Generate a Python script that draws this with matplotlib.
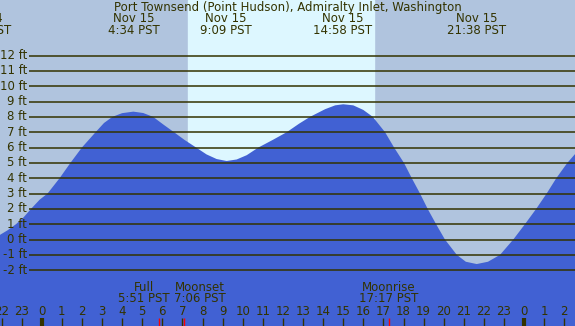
import matplotlib
matplotlib.use("Agg")
from matplotlib import pyplot as plt

# tide height readings (hours from midnight Nov 15, feet)
tide_hours = [-2.08, -1.7, -1.28, -0.9, -0.53, -0.1, 0.29, 0.89, 1.43, 2.0, 2.68, 3.1, 3.52,
              4.0, 4.56, 5.05, 5.54, 6.05, 6.58, 7.1, 7.68, 8.2, 8.7, 9.2, 9.7, 10.2, 10.78,
              11.5, 12.19, 12.8, 13.35, 14.1, 14.6, 15.0, 15.5, 16.0, 16.47, 17.08, 17.53,
              18.02, 18.41, 18.82, 19.2, 19.62, 20.06, 20.65, 21.1, 21.64, 22.2, 22.8,
              23.46, 24.04, 24.6, 25.12, 25.6, 26.15, 26.55]
tide_ft = [0.3, 0.6, 1.0, 1.45, 2.0, 2.6, 3.0, 4.0, 5.0, 6.0, 7.0, 7.6, 8.0,
           8.24, 8.34, 8.25, 8.0, 7.5, 7.0, 6.5, 6.0, 5.55, 5.25, 5.12, 5.22, 5.5, 6.0,
           6.5, 7.0, 7.55, 8.0, 8.5, 8.75, 8.82, 8.75, 8.45, 8.0, 7.0, 6.0,
           5.0, 4.0, 3.0, 2.0, 1.0, 0.0, -1.0, -1.45, -1.6, -1.45, -1.0,
           0.0, 1.0, 2.0, 3.0, 4.0, 5.0, 5.6]

sunrise = 7.28
sunset = 16.53

# high / low labels along the top
ext_hours = [-2.98, 4.57, 9.15, 14.97, 21.63]
ext_dates = ["Nov 14", "Nov 15", "Nov 15", "Nov 15", "Nov 15"]
ext_times = ["21:09 PST", "4:34 PST", "9:09 PST", "14:58 PST", "21:38 PST"]

# moon events
moon_hours = [5.85, 7.1, 17.28]
moon_label_hours = [5.1, 7.88, 17.28]
moon_names = ["Full", "Moonset", "Moonrise"]
moon_times = ["5:51 PST", "7:06 PST", "17:17 PST"]

ft_levels = list(range(-2, 13))
hour_ticks = list(range(-2, 27))

night = "#b0c4de"
day = "#ddf7ff"
water = "#4161d3"
ink = "#333300"
fs = 8.5

plt.rcParams['font.family'] = 'DejaVu Sans'

fig = plt.figure(figsize=(5.75, 3.26), dpi=100)
ax = fig.add_axes([0, 0, 1, 1])
ax.set_xlim(-2.075, 26.53)
ax.set_ylim(-5.64, 15.62)
ax.axis("off")

ax.axvspan(-5, 30, color=night, zorder=0)
ax.axvspan(sunrise, sunset, color=day, zorder=1)
ax.fill_between(tide_hours, tide_ft, -10, color=water, lw=0, zorder=2)

ax.hlines(ft_levels, -0.63, 30, color=ink, lw=1.1, zorder=3)
for f in ft_levels:
    ax.text(-0.73, f, "%d ft" % f, ha="right", va="center", fontsize=fs, color=ink, zorder=4)

tr = ax.get_xaxis_transform()
ax.text(0.5, 0.978, "Port Townsend (Point Hudson), Admiralty Inlet, Washington",
        transform=ax.transAxes, ha="center", va="center", fontsize=fs, color=ink, zorder=4)
for h, d, t in zip(ext_hours, ext_dates, ext_times):
    ax.text(h, 0.943, d, transform=tr, ha="center", va="center", fontsize=fs, color=ink, zorder=4)
    ax.text(h, 0.906, t, transform=tr, ha="center", va="center", fontsize=fs, color=ink, zorder=4)

for h, n, t in zip(moon_label_hours, moon_names, moon_times):
    ax.text(h, 0.119, n, transform=tr, ha="center", va="center", fontsize=fs, color=ink, zorder=4)
    ax.text(h, 0.083, t, transform=tr, ha="center", va="center", fontsize=fs, color=ink, zorder=4)

for h in hour_ticks:
    ax.text(h, 0.046, str(h % 24), transform=tr, ha="center", va="center",
            fontsize=fs, color=ink, zorder=4)
    lw = 3 if h % 24 == 0 else 1
    ax.vlines(h, 0, 0.025, transform=tr, color=ink, lw=lw, zorder=4)
ax.vlines(moon_hours, 0, 0.025, transform=tr, color="red", lw=1, zorder=5)

fig.savefig("out.png", dpi=100)
